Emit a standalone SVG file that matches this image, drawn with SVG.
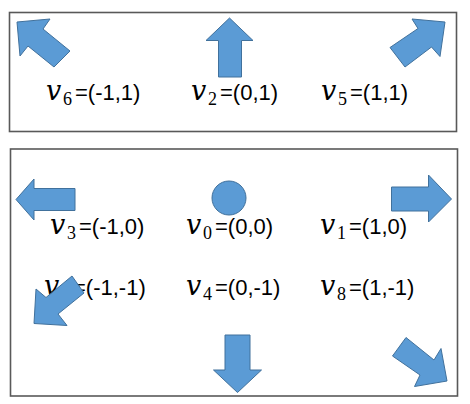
<svg xmlns="http://www.w3.org/2000/svg" width="470" height="404" viewBox="0 0 470 404">
<style>
.box{fill:#fff;stroke:#595959;stroke-width:1.6}
.arr{fill:#5B9BD5;stroke:#41719C;stroke-width:1;stroke-linejoin:miter}
.lbl{font-family:"Liberation Sans",Arial,sans-serif;font-size:22px;fill:#000}
.v{font-family:"DejaVu Serif","Liberation Serif",serif;font-style:italic;font-size:27px}
.s{font-family:"Liberation Serif","DejaVu Serif",serif;font-size:18px}
</style>
<rect width="470" height="404" fill="#fff"/>
<rect class="box" x="9.5" y="12.5" width="447" height="119"/>
<rect class="box" x="10.5" y="149" width="447" height="247"/>

<g id="v6">
<text class="lbl"><tspan class="v" x="46" y="99.5">v</tspan><tspan class="s" x="63" y="104.5">6</tspan><tspan x="75" y="99.5">=(-1,1)</tspan></text>
<polygon class="arr" points="17,22 50,19 43,29 70,51 54,67 28,46 20,56"/>
</g>
<g id="v2">
<text class="lbl"><tspan class="v" x="191" y="99.5">v</tspan><tspan class="s" x="208" y="104.5">2</tspan><tspan x="220" y="99.5">=(0,1)</tspan></text>
<polygon class="arr" points="229.5,18 253,40.5 241.5,40.5 241.5,77 218.5,77 218.5,40.5 206,40.5"/>
</g>
<g id="v5">
<text class="lbl"><tspan class="v" x="321" y="99.5">v</tspan><tspan class="s" x="338" y="104.5">5</tspan><tspan x="350" y="99.5">=(1,1)</tspan></text>
<polygon class="arr" points="445,22 412,19 418,28.5 390,47.5 405,67 431.5,47 440,56.5"/>
</g>
<g id="v3">
<text class="lbl"><tspan class="v" x="50" y="234">v</tspan><tspan class="s" x="67" y="239">3</tspan><tspan x="79" y="234">=(-1,0)</tspan></text>
<polygon class="arr" points="16,199.5 34,179 34,188.5 75,188.5 75,210.5 34,210.5 34,220"/>
</g>
<g id="v0">
<text class="lbl"><tspan class="v" x="186" y="234">v</tspan><tspan class="s" x="203" y="239">0</tspan><tspan x="215" y="234">=(0,0)</tspan></text>
<circle class="arr" cx="229" cy="198" r="17"/>
</g>
<g id="v1">
<text class="lbl"><tspan class="v" x="320" y="234">v</tspan><tspan class="s" x="337" y="239">1</tspan><tspan x="349" y="234">=(1,0)</tspan></text>
<polygon class="arr" points="451.5,199 428.5,175 428.5,187 391.5,187 391.5,211 428.5,211 428.5,222"/>
</g>
<g id="v7">
<text class="lbl"><tspan class="v" x="44" y="295">v</tspan><tspan class="s" x="61" y="300">7</tspan><tspan x="73" y="295">=(-1,-1)</tspan></text>
<polygon class="arr" points="34,323.5 36,289 46,297.5 72,276 84,293 58,314 67,325.5"/>
</g>
<g id="v4">
<text class="lbl"><tspan class="v" x="186" y="295">v</tspan><tspan class="s" x="203" y="300">4</tspan><tspan x="215" y="295">=(0,-1)</tspan></text>
<polygon class="arr" points="237.5,392.5 261.5,370 250,370 250,335 225,335 225,370 213.5,370"/>
</g>
<g id="v8">
<text class="lbl"><tspan class="v" x="320" y="295">v</tspan><tspan class="s" x="337" y="300">8</tspan><tspan x="349" y="295">=(1,-1)</tspan></text>
<polygon class="arr" points="447,381 441,348.5 434,360 406,337.5 392.5,356 420,375 414.5,386.5"/>
</g>
</svg>
